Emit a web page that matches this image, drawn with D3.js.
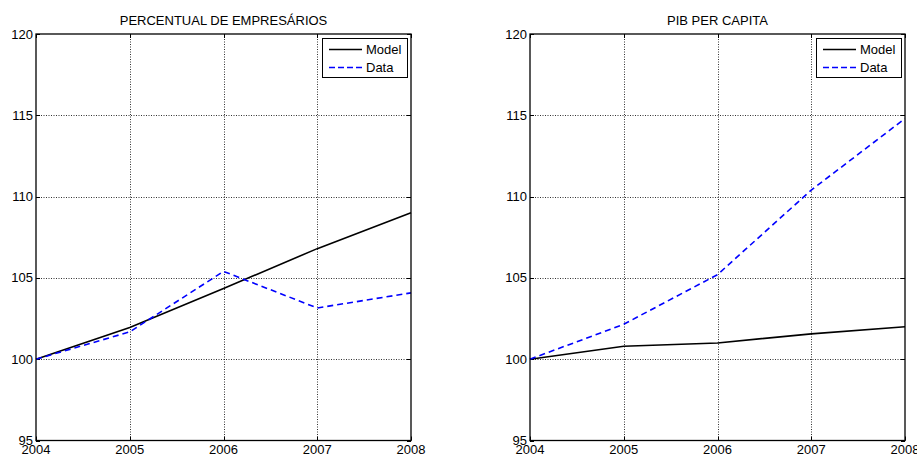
<!DOCTYPE html>
<html><head><meta charset="utf-8">
<script src="https://cdn.jsdelivr.net/npm/d3@7"></script>
<style>body{margin:0;background:#fff}svg{display:block}text{font-family:"Liberation Sans",Arial,sans-serif;fill:#000}</style>
</head><body><svg id="c" width="917" height="455"></svg>
<script>
const years = [2004, 2005, 2006, 2007, 2008];
const yTicks = [95, 100, 105, 110, 115, 120];
const titles = ["PERCENTUAL DE EMPRESÁRIOS", "PIB PER CAPITA"];
const seriesNames = ["Model", "Data"];
const empModel = [100, 101.95, 104.35, 106.8, 109.0];
const empData = [100, 101.68, 105.4, 103.15, 104.08];
const pibModel = [100, 100.8, 101.0, 101.56, 102.0];
const pibData = [100, 102.15, 105.2, 110.4, 114.8];

const panels = [
  {title: titles[0], model: empModel, data: empData, x0: 36, x1: 411},
  {title: titles[1], model: pibModel, data: pibData, x0: 530, x1: 905}
];
const svg = d3.select("#c");
const yTop = 34, yBot = 440.5;
const fs = 13;

panels.forEach(p => {
  const x = d3.scaleLinear().domain([2004, 2008]).range([p.x0, p.x1]);
  const y = d3.scaleLinear().domain([95, 120]).range([yBot, yTop]);
  const g = svg.append("g");
  // grid
  g.selectAll(".gx").data(years.slice(1, -1)).enter().append("line")
    .attr("x1", d => Math.round(x(d)) + 0.5).attr("x2", d => Math.round(x(d)) + 0.5)
    .attr("y1", yTop).attr("y2", yBot)
    .attr("stroke", "#000").attr("stroke-width", 1).attr("stroke-dasharray", "1,1.5").attr("opacity", 0.8);
  g.selectAll(".gy").data(yTicks.slice(1, -1)).enter().append("line")
    .attr("y1", d => Math.round(y(d)) + 0.5).attr("y2", d => Math.round(y(d)) + 0.5)
    .attr("x1", p.x0).attr("x2", p.x1)
    .attr("stroke", "#000").attr("stroke-width", 1).attr("stroke-dasharray", "1,1.5").attr("opacity", 0.8);
  // inner ticks
  const tl = 4;
  years.forEach(d => {
    const xx = Math.round(x(d)) + 0.5;
    g.append("line").attr("x1", xx).attr("x2", xx).attr("y1", yBot).attr("y2", yBot - tl).attr("stroke", "#000");
    g.append("line").attr("x1", xx).attr("x2", xx).attr("y1", yTop).attr("y2", yTop + tl).attr("stroke", "#000");
  });
  yTicks.forEach(d => {
    const yy = Math.round(y(d)) + 0.5;
    g.append("line").attr("y1", yy).attr("y2", yy).attr("x1", p.x0).attr("x2", p.x0 + tl).attr("stroke", "#000");
    g.append("line").attr("y1", yy).attr("y2", yy).attr("x1", p.x1).attr("x2", p.x1 - tl).attr("stroke", "#000");
  });
  // lines
  const line = d3.line().x((d, i) => x(years[i])).y(d => y(d));
  g.append("path").datum(p.model).attr("d", line).attr("fill", "none")
    .attr("stroke", "#000").attr("stroke-width", 1.6);
  g.append("path").datum(p.data).attr("d", line).attr("fill", "none")
    .attr("stroke", "#0000ff").attr("stroke-width", 1.6).attr("stroke-dasharray", "6,4");
  // box
  g.append("rect").attr("x", p.x0).attr("y", yTop).attr("width", p.x1 - p.x0).attr("height", yBot - yTop)
    .attr("fill", "none").attr("stroke", "#000").attr("stroke-width", 1.3);
  // tick labels
  g.selectAll(".yl").data(yTicks).enter().append("text")
    .attr("x", p.x0 - 3).attr("y", d => y(d)).attr("dy", "0.35em")
    .attr("text-anchor", "end").attr("font-size", fs).text(d => d);
  g.selectAll(".xl").data(years).enter().append("text")
    .attr("x", d => x(d)).attr("y", 454)
    .attr("text-anchor", "middle").attr("font-size", fs).text(d => d);
  // title
  g.append("text").attr("x", (p.x0 + p.x1) / 2).attr("y", 25)
    .attr("text-anchor", "middle").attr("font-size", fs).text(p.title);
  // legend
  const lx = p.x1 - 89, ly = 38;
  const lg = g.append("g");
  lg.append("rect").attr("x", lx + 0.5).attr("y", ly + 0.5).attr("width", 85).attr("height", 39)
    .attr("fill", "#fff").attr("stroke", "#000").attr("stroke-width", 1);
  lg.append("line").attr("x1", lx + 7).attr("x2", lx + 40).attr("y1", ly + 11.5).attr("y2", ly + 11.5)
    .attr("stroke", "#000").attr("stroke-width", 1.6);
  lg.append("line").attr("x1", lx + 7).attr("x2", lx + 40).attr("y1", ly + 29.5).attr("y2", ly + 29.5)
    .attr("stroke", "#0000ff").attr("stroke-width", 1.6).attr("stroke-dasharray", "6,3");
  lg.append("text").attr("x", lx + 44).attr("y", ly + 11.5).attr("dy", "0.35em").attr("font-size", fs).text(seriesNames[0]);
  lg.append("text").attr("x", lx + 44).attr("y", ly + 29.5).attr("dy", "0.35em").attr("font-size", fs).text(seriesNames[1]);
});
</script></body></html>
